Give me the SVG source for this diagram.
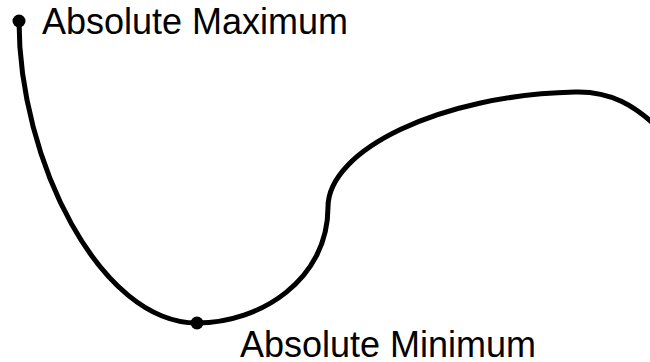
<svg xmlns="http://www.w3.org/2000/svg" width="650" height="362" viewBox="0 0 650 362">
<style>
.curve{fill:none;stroke:#000;stroke-width:5;stroke-linecap:round}
.dot{fill:#000}
.lbl{font-family:"Liberation Sans",Arial,sans-serif;font-size:36px;fill:#000}
</style>
<rect width="650" height="362" fill="#fff"/>
<g id="connectors">
<path class="curve" d="M19,21 C19,160 100,323 197,323 C260,323 328,280 328,207 C328,150 440,95 575,92 C610,91 635,105 660,130"/>
</g>
<g id="max">
<circle class="dot" cx="19" cy="21" r="6.5"/>
<text class="lbl" x="42" y="34">Absolute Maximum</text>
</g>
<g id="min">
<circle class="dot" cx="197" cy="323" r="6.5"/>
<text class="lbl" x="240" y="357">Absolute Minimum</text>
</g>
</svg>
